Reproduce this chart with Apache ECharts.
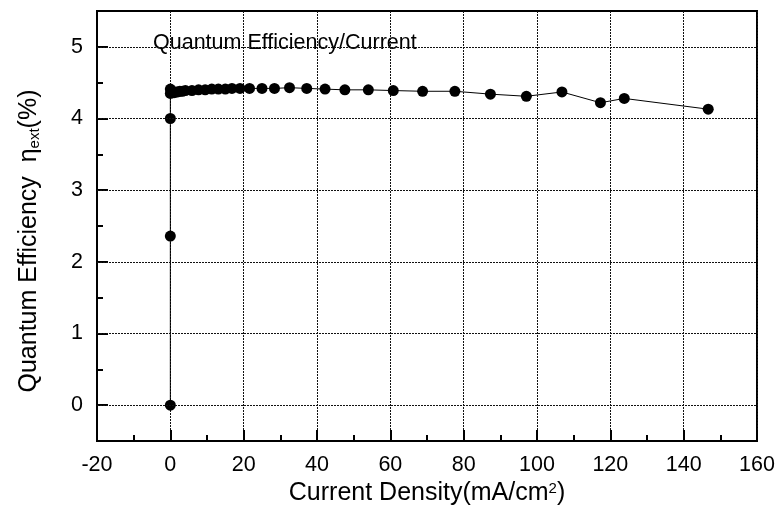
<!DOCTYPE html>
<html>
<head>
<meta charset="utf-8">
<script src="https://cdn.jsdelivr.net/npm/echarts@6/dist/echarts.min.js"></script>
<style>
  html, body { margin: 0; padding: 0; background: #fff; }
  #chart { width: 781px; height: 511px; }
</style>
</head>
<body>
<div id="chart"></div>
<script>
// 电流密度 (mA/cm2) 与外量子效率 (%)
const currentDensity = [0, 0, 0, 0, 0, 0.3, 0.6, 1.0, 1.5, 2.0, 2.6, 3.3, 4.1, 5.9, 7.7, 9.5, 11.3, 13.1, 15.0, 16.8, 19.0,
    21.6, 25.0, 28.4, 32.5, 37.2, 42.2, 47.6, 54.0, 60.8, 68.8, 77.6, 87.3, 97.1, 106.8, 117.3, 123.8, 146.7];
const efficiency = [0, 2.36, 4.0, 4.35, 4.41, 4.37, 4.36, 4.36, 4.37, 4.37, 4.38, 4.38, 4.39, 4.39, 4.40, 4.40, 4.41, 4.41, 4.41, 4.42, 4.42,
    4.42, 4.42, 4.42, 4.43, 4.42, 4.41, 4.40, 4.40, 4.39, 4.38, 4.38, 4.34, 4.31, 4.37, 4.22, 4.28, 4.13];
const yTicks = [0, 1, 2, 3, 4, 5];
const legendText = 'Quantum Efficiency/Current';

const FONT = 'Liberation Sans';
// 每次返回新对象, 避免共享样式被改写
const gridLine = () => ({ color: '#111', width: 1, type: [2, 1] });

const chart = echarts.init(document.getElementById('chart'));

const option = {
    backgroundColor: '#fff',
    animation: false,
    textStyle: { fontFamily: FONT },
    grid: {
        left: 97, right: 24, top: 11, bottom: 68,
        show: true, borderColor: '#000', borderWidth: 2
    },
    xAxis: {
        type: 'value',
        min: -20, max: 160, interval: 20,
        name: 'Current Density(mA/cm{sup|2})',
        nameLocation: 'middle',
        nameGap: 40,
        nameTextStyle: {
            fontFamily: FONT, fontSize: 25, color: '#000',
            rich: { sup: { fontSize: 15, verticalAlign: 'top', lineHeight: 14, fontFamily: FONT } }
        },
        axisLine: { show: true, onZero: false, lineStyle: { color: '#000', width: 2 } },
        axisTick: { show: true, inside: true, length: 11, lineStyle: { color: '#000', width: 2 } },
        minorTick: { show: true, splitNumber: 2, length: 6, lineStyle: { color: '#000', width: 2 } },
        axisLabel: { fontSize: 21.5, color: '#000', margin: 13, fontFamily: FONT },
        splitLine: { show: true, lineStyle: gridLine() }
    },
    yAxis: [{
        type: 'value',
        min: -0.5, max: 5.5,
        name: 'Quantum Efficiency  \u03b7{sub|ext}(%)',
        nameLocation: 'middle',
        nameGap: 55,
        nameTextStyle: {
            fontFamily: FONT, fontSize: 25, color: '#000',
            padding: [0, 30, 0, 0],
            rich: { sub: { fontSize: 15, verticalAlign: 'bottom', lineHeight: 14, fontFamily: FONT } }
        },
        axisLine: { show: true, onZero: false, lineStyle: { color: '#000', width: 2 } },
        axisTick: { show: true, inside: true, length: 11, customValues: yTicks, lineStyle: { color: '#000', width: 2 } },
        axisLabel: { fontSize: 21.5, color: '#000', margin: 14, customValues: yTicks, fontFamily: FONT },
        splitLine: { show: false }
    }, {
        // 次刻度
        type: 'value',
        min: -0.5, max: 5.5, interval: 0.5,
        position: 'left',
        axisLine: { show: false, onZero: false },
        axisTick: { show: true, inside: true, length: 6, lineStyle: { color: '#000', width: 2 } },
        axisLabel: { show: false },
        splitLine: { show: false }
    }],
    graphic: [{
        type: 'text',
        left: 153, top: 32,
        style: { text: legendText, font: '21.5px "Liberation Sans"', fill: '#000' }
    }],
    series: [{
        type: 'line',
        yAxisIndex: 0,
        data: currentDensity.map((x, i) => [x, efficiency[i]]),
        symbol: 'circle',
        symbolSize: 11,
        itemStyle: { color: '#000' },
        lineStyle: { color: '#000', width: 1 },
        z: 3,
        markLine: {
            silent: true,
            symbol: 'none',
            label: { show: false },
            // 横向网格线
            data: yTicks.map(v => ({ yAxis: v, lineStyle: gridLine() }))
        }
    }]
};

chart.setOption(option);
</script>
</body>
</html>
